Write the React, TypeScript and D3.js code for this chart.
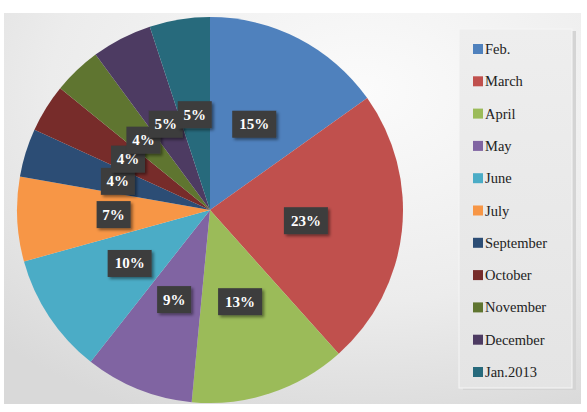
import React from 'react';
import * as d3 from 'd3';

const months = ['Feb.', 'March', 'April', 'May', 'June', 'July', 'September', 'October', 'November', 'December', 'Jan.2013'];
const shares = [15, 23, 13, 9, 10, 7, 4, 4, 4, 5, 5];
const colors = ['#4f81bd', '#c0504d', '#9bbb59', '#8064a2', '#4bacc6', '#f79646', '#2c4d75', '#772c2a', '#5f7530', '#4d3b62', '#276a7c'];

const width = 587;
const height = 412;
const cx = 210;
const cy = 210;
const radius = 193;

const App = () => {
  const pie = d3.pie<number>().sort(null).value(d => d);
  const arcs = pie(shares);
  const arc = d3.arc<d3.PieArcDatum<number>>().innerRadius(0).outerRadius(radius);

  const legendY = d3.scalePoint<string>()
    .domain(months)
    .range([49, 372]);

  return (
    <svg width={width} height={height} style={{ position: 'absolute', left: 0, top: 0 }}>
      <defs>
        <radialGradient id="bg" cx="0.62" cy="0.2" r="0.9">
          <stop offset="0" stopColor="#fbfbfb" />
          <stop offset="0.6" stopColor="#ececec" />
          <stop offset="1" stopColor="#d9d9d9" />
        </radialGradient>
        <linearGradient id="leg" x1="0" y1="0" x2="0" y2="1">
          <stop offset="0" stopColor="#eeeeee" />
          <stop offset="1" stopColor="#e4e4e4" />
        </linearGradient>
        <filter id="shadow" x="-30%" y="-30%" width="170%" height="170%">
          <feDropShadow dx="2" dy="2" stdDeviation="1.5" floodColor="#000" floodOpacity="0.45" />
        </filter>
      </defs>
      <rect x={0} y={0} width={width} height={height} fill="#ffffff" />
      <rect x={4} y={13} width={577} height={391} fill="url(#bg)" />

      <g transform={`translate(${cx},${cy})`}>
        {arcs.map((a, i) => (
          <path key={months[i]} d={arc(a) || ''} fill={colors[i]} />
        ))}
        {arcs.map((a, i) => {
          const [x, y] = arc.centroid(a);
          const label = `${shares[i]}%`;
          const w = label.length > 2 ? 44 : 34;
          return (
            <g key={'l' + i} transform={`translate(${x},${y})`}>
              <rect x={-w / 2} y={-13.5} width={w} height={27} fill="#3d3d3d" filter="url(#shadow)" />
              <text x={0} y={5} textAnchor="middle" fill="#ffffff" fontWeight="bold" fontSize={15}
                fontFamily="Liberation Serif">{label}</text>
            </g>
          );
        })}
      </g>

      <rect x={463} y={31} width={113} height={359} fill="#d4d4d4" />
      <rect x={459} y={29} width={113} height={359} fill="url(#leg)" stroke="#f6f6f6" strokeWidth={1} />
      {months.map((m, i) => {
        const y = legendY(m) as number;
        return (
          <g key={'g' + m}>
            <rect x={473} y={y - 5} width={10} height={10} fill={colors[i]} />
            <text x={485} y={y + 5} fontSize={14.5} fill="#222222" fontFamily="Liberation Serif">{m}</text>
          </g>
        );
      })}
    </svg>
  );
};

export default App;
